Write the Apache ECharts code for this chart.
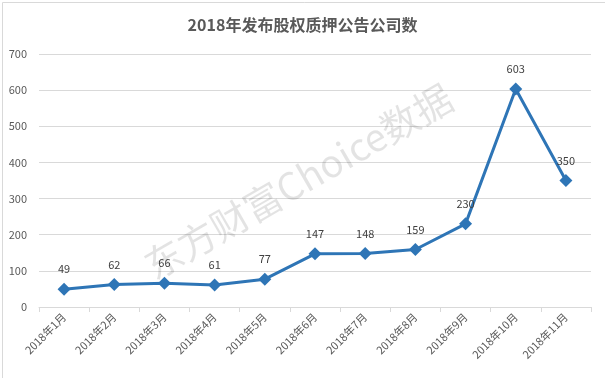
<!DOCTYPE html>
<html>
<head>
<meta charset="utf-8">
<script src="https://cdn.jsdelivr.net/npm/echarts@6/dist/echarts.min.js"></script>
<style>
  html, body { margin: 0; padding: 0; background: #fff; }
  #chart { width: 605px; height: 378px; }
</style>
</head>
<body>
<div id="chart"></div>
<script>
const months = ['2018年1月', '2018年2月', '2018年3月', '2018年4月', '2018年5月', '2018年6月',
    '2018年7月', '2018年8月', '2018年9月', '2018年10月', '2018年11月']
const companies = [49, 62, 66, 61, 77, 147, 148, 159, 230, 603, 350]

const font = '"Microsoft YaHei", "Noto Sans CJK SC", sans-serif'
const textColor = '#595959'

const chart = echarts.init(document.getElementById('chart'))
chart.setOption({
    animation: false,
    textStyle: { fontFamily: font },
    title: {
        text: '2018年发布股权质押公告公司数',
        left: 'center',
        top: 12,
        textStyle: { fontSize: 16, fontWeight: 'bold', color: textColor, fontFamily: font }
    },
    graphic: [
        {
            type: 'rect',
            left: 0, top: 0,
            shape: { width: 604, height: 377 },
            style: { fill: 'none', stroke: '#d9d9d9', lineWidth: 1 },
            silent: true
        },
        {
            // watermark
            type: 'text',
            left: 138, top: 78,
            rotation: Math.PI / 6,
            originX: 0, originY: 0,
            z: 100,
            style: {
                text: '东方财富Choice数据',
                fontSize: 38,
                fontFamily: font,
                fill: 'rgba(0,0,0,0.11)'
            },
            silent: true
        }
    ],
    grid: { left: 39, right: 14, top: 54, bottom: 71 },
    xAxis: {
        type: 'category',
        data: months,
        boundaryGap: true,
        axisLine: { lineStyle: { color: '#d9d9d9' } },
        axisTick: { show: true, lineStyle: { color: '#d9d9d9' }, length: 5 },
        axisLabel: { rotate: 45, color: textColor, fontSize: 11, interval: 0, margin: 8 }
    },
    yAxis: {
        type: 'value',
        min: 0,
        max: 700,
        interval: 100,
        axisLine: { show: false },
        axisTick: { show: false },
        axisLabel: { color: textColor, fontSize: 11, margin: 12 },
        splitLine: { lineStyle: { color: '#d9d9d9' } }
    },
    series: [{
        type: 'line',
        data: companies,
        symbol: 'diamond',
        symbolSize: 13,
        lineStyle: { color: '#2e75b6', width: 3 },
        itemStyle: { color: '#2e75b6' },
        label: { show: true, position: 'top', distance: 8, color: '#404040', fontSize: 11 }
    }]
})
</script>
</body>
</html>
